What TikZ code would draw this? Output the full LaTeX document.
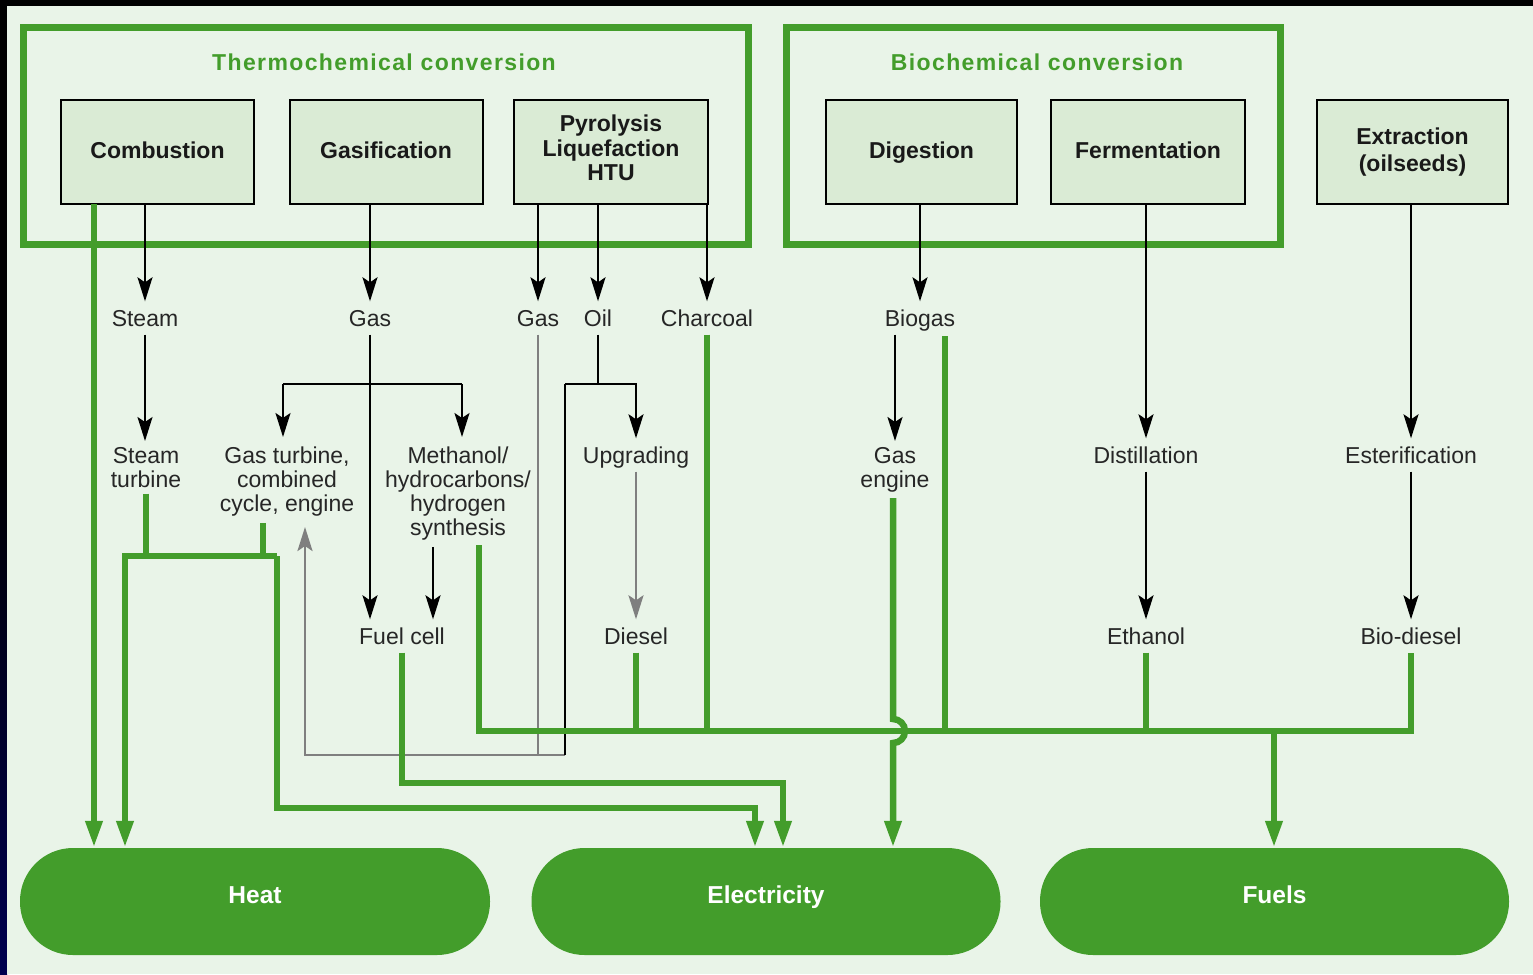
\documentclass[tikz,border=0pt]{standalone}
\usepackage{fontspec}
\setmainfont{Liberation Sans}
\usetikzlibrary{arrows.meta}
\definecolor{bgc}{HTML}{E9F4E8}
\definecolor{boxc}{HTML}{DAEBD5}
\definecolor{grc}{HTML}{439D2B}
\definecolor{gryc}{HTML}{7F7F7F}
\begin{document}
\begin{tikzpicture}[x=1pt,y=-1pt,
 procbox/.style={draw=black, line width=2pt, fill=boxc, minimum width=193pt, minimum height=104pt, font=\fontsize{23}{24.5}\selectfont\bfseries, align=center, inner sep=0pt, text=black!90},
 onebox/.style={procbox, text height=17pt, text depth=5pt},
 grpframe/.style={draw=grc, line width=7pt},
 hdr/.style={text=grc, font=\fontsize{23}{24}\selectfont\bfseries\addfontfeature{LetterSpace=6}},
 lbl/.style={font=\fontsize{23}{24}\selectfont, text height=19pt, text depth=2pt, inner sep=6pt, text=black!85},
 mlbl/.style={font=\fontsize{23}{24}\selectfont, align=center, inner sep=6pt, text=black!85},
 pill/.style={fill=grc, rounded corners=53pt, minimum height=107pt, text=white, font=\fontsize{24.5}{25}\selectfont\bfseries, text height=17pt, text depth=14pt, inner sep=0pt},
 blk/.style={draw=black, line width=2pt, -{Stealth[length=24pt,width=15pt,inset=5pt]}},
 blkline/.style={draw=black, line width=2pt},
 gry/.style={draw=gryc, line width=2.5pt},
 gryarr/.style={gry, -{Stealth[length=24pt,width=15pt,inset=5pt]}},
 grn/.style={draw=grc, line width=6.5pt},
 garr/.style={grn, -{Triangle[length=27pt,width=16pt]}},
]
\useasboundingbox (0,0) rectangle (1533,974);
% background
\fill[black] (0,0) rectangle (1533,974);
\shade[top color=black, bottom color={rgb,255:red,0;green,0;blue,80}] (0,450) rectangle (7,974);
\fill[bgc] (7,6) rectangle (1533,974);

% group frames
\draw[grpframe] (23.5,28) rectangle (748,244);
\draw[grpframe] (786,28) rectangle (1280,244);
\node[hdr] (thermoT) at (384,62) {Thermochemical conversion};
\node[hdr] (bioT) at (1037,62) {Biochemical conversion};

% process boxes
\node[onebox] (comb) at (157.5,152) {Combustion};
\node[onebox] (gasif) at (386,152) {Gasification};
\node[procbox, minimum width=194pt] (pyro) at (611,152) {Pyrolysis\\Liquefaction\\HTU\\[-16pt]\mbox{}};
\node[onebox, minimum width=191pt] (dig) at (921.5,152) {Digestion};
\node[onebox, minimum width=194pt] (ferm) at (1148,152) {Fermentation};
\node[procbox, minimum width=191pt] (extr) at (1412.5,152) {Extraction\\[3pt](oilseeds)};

% labels
\node[lbl] (steam) at (145,318) {Steam};
\node[lbl] (gas1) at (370,318) {Gas};
\node[lbl] (gas2) at (538,318) {Gas};
\node[lbl] (oil) at (598,318) {Oil};
\node[lbl] (charcoal) at (707,318) {Charcoal};
\node[lbl] (biogas) at (920,318) {Biogas};
\node[mlbl, anchor=north] (steamturb) at (146,441) {Steam\\turbine};
\node[mlbl, anchor=north] (gasturb) at (287,441) {Gas turbine,\\combined\\cycle, engine};
\node[mlbl, anchor=north] (methanol) at (458,441) {Methanol/\\hydrocarbons/\\hydrogen\\synthesis};
\node[lbl] (upgr) at (636,455) {Upgrading};
\node[mlbl, anchor=north] (gaseng) at (895,441) {Gas\\engine};
\node[lbl] (distill) at (1146,455) {Distillation};
\node[lbl] (ester) at (1411,455) {Esterification};
\node[lbl] (fuelcell) at (402,636) {Fuel cell};
\node[lbl] (diesel) at (636,636) {Diesel};
\node[lbl] (ethanol) at (1146,636) {Ethanol};
\node[lbl] (biodiesel) at (1411,636) {Bio-diesel};

% end products
\node[pill, minimum width=470pt] (heat) at (255,901.5) {Heat};
\node[pill, minimum width=469pt] (elec) at (766,901.5) {Electricity};
\node[pill, minimum width=469pt] (fuels) at (1274.5,901.5) {Fuels};

% routing points
\coordinate (jGl) at (283,384);
\coordinate (jGr) at (462,384);
\coordinate (tGT) at (283,437);
\coordinate (tMe) at (462,437);
\coordinate (mF) at (433,0);
\coordinate (jOl) at (565,384);
\coordinate (jB) at (565,755);
\coordinate (jBl) at (305,755);
\coordinate (tUp) at (305,527);

% black / grey connectors
\draw[blk] (steam |- comb.south) -- (steam.north);
\draw[blk] (gas1 |- gasif.south) -- (gas1.north);
\draw[blk] (gas2 |- pyro.south) -- (gas2.north);
\draw[blk] (oil |- pyro.south) -- (oil.north);
\draw[blk] (charcoal |- pyro.south) -- (charcoal.north);
\draw[blk] (biogas |- dig.south) -- (biogas.north);
\draw[blk] (distill |- ferm.south) -- (distill.north);
\draw[blk] (ester |- extr.south) -- (ester.north);
\draw[blk] (steam.south) -- (steam |- steamturb.north);
\draw[blkline] (jGl) -- (jGr);
\draw[blk] (jGl) -- (tGT);
\draw[blk] (jGr) -- (tMe);
\draw[blk] (gas1.south) -- (gas1 |- fuelcell.north);
\draw[blk] (mF |- methanol.south) -- (mF |- fuelcell.north);
\draw[blkline] (oil.south) -- (oil |- jOl);
\draw[blk] (jOl) -| (upgr.north);
\draw[gry] (gas2.south) -- (gas2 |- jB);
\draw[gryarr] (jB) -- (jBl) -- (tUp);
\draw[blkline] (jOl) -- (jB);
\draw[gryarr] (upgr.south) -- (diesel.north);
\draw[blk] (gaseng |- biogas.south) -- (gaseng.north);
\draw[blk] (distill.south) -- (ethanol.north);
\draw[blk] (ester.south) -- (biodiesel.north);

% green connectors
\coordinate (hA) at (94,204);
\coordinate (jH) at (125,556);
\coordinate (jE) at (277,556);
\coordinate (gT) at (263,0);
\coordinate (eA) at (755,808);
\coordinate (eB) at (783,783);
\coordinate (mS) at (479,545);
\coordinate (fR) at (1411,731);
\coordinate (bgS) at (945,336);
\coordinate (fF) at (1274,731);
\coordinate (gJ) at (893,719);
\draw[garr] (hA) -- (hA |- heat.north);
\draw[grn] (steamturb.south) -- (steamturb.south |- jH);
\draw[grn] (gT |- gasturb.south) -- (gT |- jH);
\draw[garr] (jE) -- (jH) -- (jH |- heat.north);
\draw[garr] (jE) |- (eA) -- (eA |- elec.north);
\draw[garr] (fuelcell.south) |- (eB) -- (eB |- elec.north);
\draw[grn] (mS) |- (fR) -- (biodiesel.south);
\draw[grn] (diesel.south) -- (diesel |- fR);
\draw[grn] (charcoal.south) -- (charcoal |- fR);
\draw[grn] (bgS) -- (bgS |- fR);
\draw[grn] (ethanol.south) -- (ethanol |- fR);
\draw[garr] (fF) -- (fF |- fuels.north);
\draw[garr] (gJ |- gaseng.south) -- (gJ) arc[start angle=90, end angle=-90, radius=12pt] -- (gJ |- elec.north);
\end{tikzpicture}
\end{document}
